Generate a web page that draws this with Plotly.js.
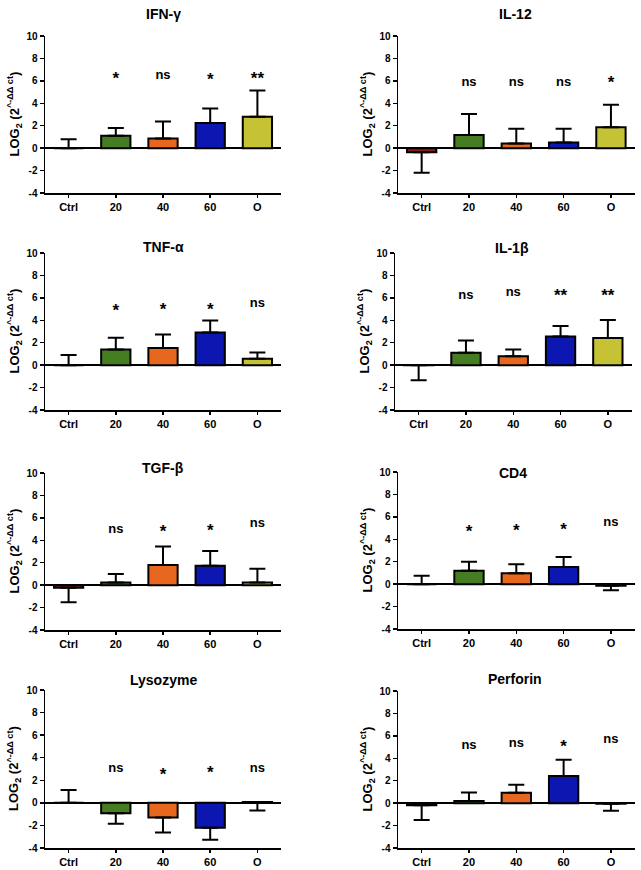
<!DOCTYPE html>
<html>
<head>
<meta charset="utf-8">
<script src="https://cdn.plot.ly/plotly-3.0.1.min.js"></script>
<style>
  html, body { margin: 0; padding: 0; background: #fff; }
  #chart { width: 641px; height: 870px; }
</style>
</head>
<body>
<div id="chart"></div>
<script>
// Treatment groups on every x axis
const groups = ['Ctrl', '20', '40', '60', 'O'];

// Gene panels, in reading order (left to right, top to bottom)
const genes = ['IFN-γ', 'IL-12', 'TNF-α', 'IL-1β', 'TGF-β', 'CD4', 'Lysozyme', 'Perforin'];

// Mean log2 fold change per group
const ifnMean  = [0.00, 1.10, 0.86, 2.25, 2.79];
const il12Mean = [-0.36, 1.18, 0.41, 0.50, 1.86];
const tnfMean  = [0.00, 1.40, 1.52, 2.92, 0.57];
const il1bMean = [-0.02, 1.10, 0.80, 2.56, 2.41];
const tgfMean  = [-0.24, 0.24, 1.79, 1.73, 0.24];
const cd4Mean  = [0.00, 1.19, 0.98, 1.52, -0.15];
const lysMean  = [0.00, -0.91, -1.30, -2.21, 0.08];
const perfMean = [-0.18, 0.20, 0.92, 2.43, -0.06];

// One-sided SD error bars: positive = drawn upward, negative = drawn downward
const ifnErr  = [0.80, 0.70, 1.51, 1.28, 2.34];
const il12Err = [-1.84, 1.87, 1.31, 1.22, 2.02];
const tnfErr  = [0.90, 1.04, 1.22, 1.07, 0.56];
const il1bErr = [-1.32, 1.10, 0.60, 0.94, 1.61];
const tgfErr  = [-1.28, 0.76, 1.66, 1.31, 1.22];
const cd4Err  = [0.74, 0.81, 0.80, 0.89, -0.39];
const lysErr  = [1.15, -0.95, -1.32, -1.06, -0.76];
const perfErr = [-1.32, 0.75, 0.71, 1.45, -0.62];

// Significance versus control
const ifnSig  = ['', '*', 'ns', '*', '**'];
const il12Sig = ['', 'ns', 'ns', 'ns', '*'];
const tnfSig  = ['', '*', '*', '*', 'ns'];
const il1bSig = ['', 'ns', 'ns', '**', '**'];
const tgfSig  = ['', 'ns', '*', '*', 'ns'];
const cd4Sig  = ['', '*', '*', '*', 'ns'];
const lysSig  = ['', 'ns', '*', '*', 'ns'];
const perfSig = ['', 'ns', 'ns', '*', 'ns'];

// Y ticks
const yTicks = [-4, -2, 0, 2, 4, 6, 8, 10];

const means = [ifnMean, il12Mean, tnfMean, il1bMean, tgfMean, cd4Mean, lysMean, perfMean];
const errs  = [ifnErr, il12Err, tnfErr, il1bErr, tgfErr, cd4Err, lysErr, perfErr];
const sigs  = [ifnSig, il12Sig, tnfSig, il1bSig, tgfSig, cd4Sig, lysSig, perfSig];

// ---- layout geometry (pixels) ----
const W = 641, H = 870;
const FONT = 'Liberation Sans, Arial, Helvetica, sans-serif';
const groupColors = ['#8a1c1c', '#467d22', '#e8671e', '#0c16b0', '#c6c236'];

// plot frames: [left, right, top, bottom]
const frames = [
  [45, 281, 36, 193],  [398, 634.6, 36, 193],
  [45, 281, 253, 410], [395, 631.5, 253, 410],
  [45, 281, 473, 630], [398, 634.6, 472, 629],
  [45, 281, 690, 848], [398, 634.6, 691, 848]
];
// panel title centres
const titleXY = [[163, 14], [515, 14], [163, 247], [512, 248], [163, 468], [513, 473], [163, 680], [515, 679]];
// visual height (data units) of the significance marks in each panel
const sigY = [
  [0, 6.5, 6.5, 6.45, 6.5],
  [0, 5.86, 5.86, 5.86, 6.15],
  [0, 5.18, 5.3, 5.3, 5.45],
  [0, 6.2, 6.43, 6.5, 6.5],
  [0, 4.9, 5.06, 5.18, 5.45],
  [0, 5.0, 5.08, 5.2, 5.44],
  [0, 3.0, 2.86, 3.0, 3.0],
  [0, 5.15, 5.3, 5.35, 5.65]
];
// asterisks sit high in their line box; lower their anchor so the glyph centre lands on sigY
const STAR_DROP = 0.42;
const STAR_SIZE = 17, NS_SIZE = 13;

const px2x = v => v / W;
const px2y = v => 1 - v / H;

const traces = [];
const annotations = [];
const layout = {
  width: W, height: H,
  margin: { l: 0, r: 0, t: 0, b: 0 },
  paper_bgcolor: '#fff', plot_bgcolor: '#fff',
  showlegend: false,
  bargap: 0.38,
  font: { family: FONT, color: '#000' },
  annotations: annotations
};

const yTitle = 'LOG<sub>2</sub> (2<sup>^-ΔΔ ct</sup>)';

genes.forEach((gene, i) => {
  const n = i + 1;
  const xa = 'x' + (n === 1 ? '' : n);
  const ya = 'y' + (n === 1 ? '' : n);
  const [l, r, t, b] = frames[i];
  const e = errs[i];

  traces.push({
    type: 'bar',
    x: groups,
    y: means[i],
    xaxis: xa, yaxis: ya,
    marker: { color: groupColors, line: { color: '#000', width: 2 } },
    error_y: {
      type: 'data', symmetric: false,
      array: e.map(v => v > 0 ? v : 0),
      arrayminus: e.map(v => v < 0 ? -v : 0),
      color: '#000', thickness: 2, width: 8
    },
    hoverinfo: 'skip'
  });

  // significance marks above the bars
  const isStar = sigs[i].map(s => s.charAt(0) === '*');
  traces.push({
    type: 'scatter',
    mode: 'text',
    x: groups,
    y: sigY[i].map((v, k) => isStar[k] ? v - STAR_DROP : v),
    text: sigs[i],
    textposition: 'middle center',
    textfont: {
      family: FONT, weight: 700, color: '#000',
      size: isStar.map(st => st ? STAR_SIZE : NS_SIZE)
    },
    xaxis: xa, yaxis: ya,
    hoverinfo: 'skip',
    cliponaxis: false
  });

  layout['xaxis' + (n === 1 ? '' : n)] = {
    domain: [px2x(l), px2x(r)],
    anchor: ya,
    type: 'category',
    categoryarray: groups,
    range: [-0.5, 4.5],
    showline: true, linecolor: '#000', linewidth: 1.5,
    ticks: 'outside', ticklen: 3, tickwidth: 1.5, tickcolor: '#000',
    showgrid: false, zeroline: false,
    tickfont: { family: FONT, size: 11, weight: 700, color: '#000' },
    fixedrange: true
  };
  layout['yaxis' + (n === 1 ? '' : n)] = {
    domain: [px2y(b), px2y(t)],
    anchor: xa,
    range: [-4, 10],
    tickvals: yTicks,
    ticktext: yTicks.map(String),
    showline: true, linecolor: '#000', linewidth: 1.5,
    ticks: 'outside', ticklen: 4, tickwidth: 1.5, tickcolor: '#000',
    showgrid: false,
    zeroline: true, zerolinecolor: '#000', zerolinewidth: 1.5,
    tickfont: { family: FONT, size: 10, weight: 700, color: '#000' },
    fixedrange: true
  };

  // panel title
  annotations.push({
    xref: 'paper', yref: 'paper',
    x: px2x(titleXY[i][0]), y: px2y(titleXY[i][1]),
    xanchor: 'center', yanchor: 'middle',
    text: gene, showarrow: false,
    font: { family: FONT, size: 14, weight: 700, color: '#000' }
  });

  // y-axis title
  annotations.push({
    xref: 'paper', yref: 'paper',
    x: px2x(l - 31), y: px2y((t + b) / 2),
    xanchor: 'center', yanchor: 'middle',
    textangle: -90,
    text: yTitle, showarrow: false,
    font: { family: FONT, size: 13, weight: 700, color: '#000' }
  });
});

Plotly.newPlot('chart', traces, layout, { displayModeBar: false, staticPlot: true });
</script>
</body>
</html>
